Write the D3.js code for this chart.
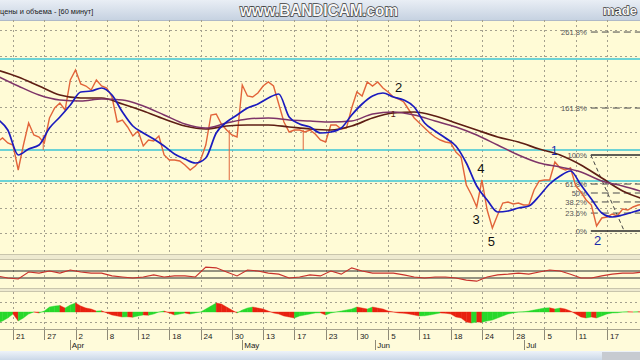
<!DOCTYPE html>
<html><head><meta charset="utf-8">
<script src="https://cdn.jsdelivr.net/npm/d3@7"></script>
<style>html,body{margin:0;padding:0;background:#fff;overflow:hidden}svg{display:block}</style>
</head><body>
<svg id="c" width="640" height="360"></svg>
<script>
// ---------- DATA ----------
const dayLabels = ["21","27","2","8","12","18","24","30","13","17","23","30","5","11","18","24","28","5","11","17"];
const tickBars = [3,9,15,21,27,33,39,45,51,57,63,69,75,81,87,93,99,105,111,117];
const monthLabels = ["Apr","May","Jun","Jul"];
const monthStart = [13.9, 47, 72.5, 101.1];

// hourly close, one value per bar (bar 0 .. 124)
const price = [1.158,1.162,1.157,1.155,1.130,1.155,1.177,1.165,1.163,1.157,
 1.182,1.192,1.197,1.190,1.220,1.230,1.216,1.214,1.210,1.220,
 1.214,1.212,1.203,1.178,1.180,1.173,1.164,1.169,1.154,1.160,
 1.159,1.164,1.145,1.140,1.140,1.139,1.135,1.130,1.134,1.140,
 1.155,1.185,1.186,1.176,1.170,1.165,1.163,1.215,1.204,1.203,
 1.207,1.214,1.218,1.214,1.196,1.178,1.168,1.170,1.170,1.168,
 1.170,1.166,1.160,1.158,1.175,1.175,1.171,1.172,1.192,1.208,
 1.204,1.218,1.214,1.218,1.212,1.208,1.203,1.201,1.198,1.190,
 1.182,1.177,1.172,1.167,1.163,1.160,1.158,1.157,1.148,1.143,
 1.115,1.105,1.093,1.120,1.090,1.072,1.085,1.097,1.098,1.096,
 1.097,1.095,1.095,1.110,1.119,1.120,1.120,1.138,1.132,1.130,
 1.132,1.114,1.108,1.100,1.095,1.074,1.082,1.083,1.086,1.084,
 1.091,1.090,1.093,1.095,1.096];
// long wicks
const wickBar = [8.8, 44.5, 58.7];
const wickHigh = [1.165, 1.170, 1.170];
const wickLow = [1.150, 1.120, 1.150];

// fast MA, every 2nd bar
const blueMA = [1.181,1.170,1.145,1.151,1.155,1.172,1.183,1.195,1.208,1.209,1.212,1.205,1.188,1.174,1.167,1.161,1.154,1.146,1.141,1.137,1.142,1.167,1.178,1.185,1.192,1.196,1.202,1.206,1.183,1.176,1.173,1.167,1.168,1.172,1.185,1.196,1.204,1.207,1.203,1.200,1.193,1.177,1.169,1.162,1.154,1.137,1.114,1.100,1.088,1.089,1.092,1.094,1.104,1.116,1.124,1.129,1.115,1.101,1.087,1.083,1.085,1.088,1.091];
// slow MAs, every 4th bar
const brownMA = [1.230,1.223,1.214,1.205,1.202,1.202,1.196,1.189,1.181,1.174,1.171,1.174,1.175,1.175,1.173,1.171,1.170,1.174,1.182,1.187,1.188,1.184,1.177,1.170,1.163,1.158,1.151,1.145,1.135,1.122,1.109,1.101];
const purpleMA = [1.224,1.214,1.205,1.200,1.199,1.201,1.200,1.194,1.185,1.176,1.172,1.177,1.181,1.182,1.180,1.179,1.178,1.179,1.186,1.188,1.185,1.179,1.173,1.165,1.155,1.145,1.137,1.133,1.128,1.119,1.114,1.108];

// oscillator, every 2nd bar
const osc = [45.7,40,37,57,54,60,54,63,57,54,54,46,43,40,43,49,43,46,46,43,71,69,57,46,63,60,54,51,40,43,49,46,60,51,69,60,54,54,54,49,43,40,43,43,40,34,31,43,49,51,54,51,57,63,60,51,40,40,46,51,54,54,57];
const oscLevels = [40, 60];

// histogram, one per bar
const hist = [-1.1,-0.9,-0.6,-0.2,-0.9,-0.6,-0.2,0,-0.1,0.1,
 0.5,0.6,0.65,0.4,0.7,0.9,0.6,0.4,0.3,0.1,
 0.12,-0.1,-0.3,-0.4,-0.5,-0.48,-0.52,-0.4,-0.3,-0.32,
 -0.2,0,0.1,-0.1,-0.3,-0.2,-0.1,-0.2,-0.1,0,
 0.3,0.6,0.9,0.8,0.5,0.2,-0.1,0.2,0.4,0.5,
 0.4,0.3,0.1,-0.1,-0.2,-0.4,-0.5,-0.6,-0.4,-0.3,
 -0.2,-0.1,-0.08,-0.3,-0.1,0,0.1,0.2,0.3,0.5,
 0.4,0.3,0.5,0.4,0.3,0.1,0,-0.1,-0.12,-0.2,
 -0.3,-0.4,-0.38,-0.3,-0.2,-0.1,-0.12,-0.2,-0.5,-0.6,
 -1.0,-1.1,-1.0,-1.02,-0.9,-0.8,-0.6,-0.4,-0.2,-0.1,
 0,0.02,0.1,0.2,0.3,0.4,0.42,0.3,0.4,0.3,
 0.1,-0.2,-0.5,-0.6,-0.5,-0.6,-0.4,-0.2,-0.1,-0.08,
 0,0.02,0,0.02,0];
const histGrid = [-1, 1];

const gridPrices = [1.270,1.244,1.219,1.193,1.168,1.143,1.117,1.092,1.067];
const cyanLevels = [1.241, 1.150, 1.119];

const fibLevels = [0, 23.6, 38.2, 50, 61.8, 100, 161.8, 261.8];
const fibLabels = ["0%","23.6%","38.2%","50%","61.8%","100%","161.8%","261.8%"];
const fibLow = 1.069, fibHigh = 1.145;
const fibStartBar = 113.9, fibEndBar = 120.3;

const waveText = ["2","1","3","4","5","1","2"];
const waveBar = [77.0, 76.0, 91.9, 92.8, 94.8, 106.9, 115.2];
const wavePrice = [1.208, 1.183, 1.076, 1.127, 1.054, 1.145, 1.055];
const waveColor = ["#111","#5a1a10","#111","#111","#111","#1a2aa8","#1a2aa8"];
const waveSize = [13, 9, 13, 13, 13, 12, 13];

// ---------- DRAW ----------
const svg = d3.select("#c");
const FONT = "'Liberation Sans', Arial, sans-serif";
const x = d3.scaleLinear().domain([3, 117]).range([13, 607]);
const y = d3.scaleLinear().domain([1.046, 1.280]).range([254, 20]);
const yOsc = d3.scaleLinear().domain([40, 60]).range([278, 271]);
const yHist = d3.scaleLinear().domain([-1, 1]).range([322, 302]);

const defs = svg.append("defs");
const g1 = defs.append("linearGradient").attr("id","tb").attr("x1",0).attr("y1",0).attr("x2",0).attr("y2",1);
g1.append("stop").attr("offset","0%").attr("stop-color","#E9EEF5");
g1.append("stop").attr("offset","100%").attr("stop-color","#C6D2E1");
const g2 = defs.append("linearGradient").attr("id","bb").attr("x1",0).attr("y1",0).attr("x2",0).attr("y2",1);
g2.append("stop").attr("offset","0%").attr("stop-color","#EEF3F9");
g2.append("stop").attr("offset","100%").attr("stop-color","#CBD8E8");
defs.append("clipPath").attr("id","mainClip").append("rect").attr("x",0).attr("y",20).attr("width",640).attr("height",234);
defs.append("clipPath").attr("id","p1Clip").append("rect").attr("x",0).attr("y",260).attr("width",640).attr("height",28);
defs.append("clipPath").attr("id","p2Clip").append("rect").attr("x",0).attr("y",292).attr("width",640).attr("height",37);

// backgrounds
svg.append("rect").attr("x",0).attr("y",0).attr("width",640).attr("height",20).attr("fill","url(#tb)");
svg.append("rect").attr("x",0).attr("y",20).attr("width",640).attr("height",331).attr("fill","#FFFBD6");
svg.append("line").attr("x1",0).attr("x2",640).attr("y1",20.5).attr("y2",20.5).attr("stroke","#AEB9C8");
[[254,6],[288,4]].forEach(([t,h])=>{
  svg.append("rect").attr("x",0).attr("y",t).attr("width",640).attr("height",h).attr("fill","#EEEAD0");
  svg.append("line").attr("x1",0).attr("x2",640).attr("y1",t+0.5).attr("y2",t+0.5).attr("stroke","#C9C5AC");
  svg.append("line").attr("x1",0).attr("x2",640).attr("y1",t+h-0.5).attr("y2",t+h-0.5).attr("stroke","#C9C5AC");
});
svg.append("rect").attr("x",0).attr("y",329).attr("width",640).attr("height",22).attr("fill","#FFFBDA");
svg.append("line").attr("x1",0).attr("x2",640).attr("y1",329.5).attr("y2",329.5).attr("stroke","#A8A48E");
svg.append("rect").attr("x",0).attr("y",351).attr("width",640).attr("height",9).attr("fill","url(#bb)");
svg.append("rect").attr("x",602).attr("y",352).attr("width",38).attr("height",8).attr("fill","#C7CBD1");

// title texts
svg.append("text").attr("x",0).attr("y",14).attr("font-family",FONT).attr("font-size",7.4).attr("fill","#1a1a1a").text("цены и объема - [60 минут]");
svg.append("text").attr("x",240).attr("y",16).attr("font-family",FONT).attr("font-weight","bold").attr("font-size",16)
  .attr("textLength",158).attr("lengthAdjust","spacingAndGlyphs")
  .attr("fill","#f7f7f7").attr("stroke","#3a3a3a").attr("stroke-width",1.4).attr("paint-order","stroke").text("www.BANDICAM.com");
svg.append("text").attr("x",603).attr("y",15).attr("font-family",FONT).attr("font-weight","bold").attr("font-size",13)
  .attr("fill","#f7f7f7").attr("stroke","#3a3a3a").attr("stroke-width",1.3).attr("paint-order","stroke").text("made");

// vertical grid
const gridStyle = s => s.attr("stroke","#A4A08E").attr("stroke-width",1).attr("stroke-dasharray","2,3");
[[20,254],[260,288],[292,329]].forEach(([a,b])=>{
  svg.append("g").selectAll("line").data(tickBars).join("line")
    .attr("x1",d=>Math.round(x(d))+0.5).attr("x2",d=>Math.round(x(d))+0.5).attr("y1",a).attr("y2",b).call(gridStyle);
});
// horizontal grid main
svg.append("g").selectAll("line").data(gridPrices).join("line")
  .attr("x1",0).attr("x2",640).attr("y1",d=>Math.round(y(d))+0.5).attr("y2",d=>Math.round(y(d))+0.5).call(gridStyle);
svg.append("g").selectAll("line").data(histGrid).join("line")
  .attr("x1",0).attr("x2",640).attr("y1",d=>Math.round(yHist(d))+0.5).attr("y2",d=>Math.round(yHist(d))+0.5).call(gridStyle);

// main panel
const main = svg.append("g").attr("clip-path","url(#mainClip)");
main.selectAll("line.cy").data(cyanLevels).join("line").attr("class","cy")
  .attr("x1",0).attr("x2",640).attr("y1",d=>y(d)).attr("y2",d=>y(d))
  .attr("stroke","#3CC6D4").attr("stroke-width",1.7);

// fibonacci
const fibPrice = l => fibLow + (fibHigh - fibLow) * l / 100;
const fx = x(fibStartBar);
fibLevels.forEach((l,i)=>{
  const solid = (l === 0 || l === 100);
  main.append("line").attr("x1",fx).attr("x2",640).attr("y1",y(fibPrice(l))).attr("y2",y(fibPrice(l)))
    .attr("stroke", solid ? "#2a2a2a" : "#4a4a4a").attr("stroke-width", solid ? 1.4 : 1)
    .attr("stroke-dasharray", solid ? null : "7,4");
  main.append("text").attr("x",fx-4).attr("y",y(fibPrice(l))+3).attr("text-anchor","end")
    .attr("font-family",FONT).attr("font-size",7.6).attr("fill","#555").text(fibLabels[i]);
});
main.append("line").attr("x1",fx).attr("y1",y(fibHigh)).attr("x2",x(fibEndBar)).attr("y2",y(fibLow))
  .attr("stroke","#444").attr("stroke-width",1).attr("stroke-dasharray","4,3");

// price
main.append("g").selectAll("line").data(wickBar).join("line")
  .attr("x1",d=>x(d)).attr("x2",d=>x(d)).attr("y1",(d,i)=>y(wickHigh[i])).attr("y2",(d,i)=>y(wickLow[i]))
  .attr("stroke","#E0673D").attr("stroke-width",1);
main.append("path").datum(price)
  .attr("d", d3.line().x((d,i)=>x(i)).y(d=>y(d)))
  .attr("fill","none").attr("stroke","#E2643A").attr("stroke-width",1.4).attr("stroke-linejoin","miter");

// moving averages
main.append("path").datum(brownMA)
  .attr("d", d3.line().x((d,i)=>x(i*4)).y(d=>y(d)).curve(d3.curveMonotoneX))
  .attr("fill","none").attr("stroke","#5E1E14").attr("stroke-width",1.7);
main.append("path").datum(purpleMA)
  .attr("d", d3.line().x((d,i)=>x(i*4)).y(d=>y(d)).curve(d3.curveMonotoneX))
  .attr("fill","none").attr("stroke","#7E3468").attr("stroke-width",1.5);
main.append("path").datum(blueMA)
  .attr("d", d3.line().x((d,i)=>x(i*2)).y(d=>y(d)).curve(d3.curveMonotoneX))
  .attr("fill","none").attr("stroke","#1B1BBE").attr("stroke-width",1.7);

// wave labels
main.append("g").selectAll("text").data(waveText).join("text")
  .attr("x",(d,i)=>x(waveBar[i])).attr("y",(d,i)=>y(wavePrice[i])).attr("text-anchor","middle")
  .attr("font-family",FONT).attr("font-size",(d,i)=>waveSize[i]).attr("fill",(d,i)=>waveColor[i]).text(d=>d);

// oscillator panel
const p1 = svg.append("g").attr("clip-path","url(#p1Clip)");
p1.selectAll("line").data(oscLevels).join("line")
  .attr("x1",0).attr("x2",640).attr("y1",d=>yOsc(d)).attr("y2",d=>yOsc(d)).attr("stroke","#2b2b2b").attr("stroke-width",1);
p1.append("path").datum(osc)
  .attr("d", d3.line().x((d,i)=>x(i*2)).y(d=>yOsc(d)))
  .attr("fill","none").attr("stroke","#C8302A").attr("stroke-width",1.1);

// histogram panel
const p2 = svg.append("g").attr("clip-path","url(#p2Clip)");
const seg = d3.area().x(d=>x(d.i)).y0(yHist(0)).y1(d=>yHist(d.v));
const segs = d3.range(1, hist.length).map(i=>({a:{i:i-1,v:hist[i-1]}, b:{i:i,v:hist[i]}, up: hist[i] >= hist[i-1]}));
p2.selectAll("path").data(segs).join("path")
  .attr("d", s=>seg([s.a, s.b]))
  .attr("fill", s=> s.up ? "#27D82A" : "#E8210F")
  .attr("stroke", s=> s.up ? "#27D82A" : "#E8210F").attr("stroke-width",0.4);

// bottom axis labels
const ax = svg.append("g");
ax.selectAll("line.t").data(tickBars).join("line").attr("class","t")
  .attr("x1",d=>Math.round(x(d))+0.5).attr("x2",d=>Math.round(x(d))+0.5).attr("y1",330).attr("y2",340)
  .attr("stroke","#8E8A78");
ax.selectAll("text.d").data(dayLabels).join("text").attr("class","d")
  .attr("x",(d,i)=>x(tickBars[i])+3).attr("y",339).attr("font-family",FONT).attr("font-size",8).attr("fill","#222").text(d=>d);
ax.selectAll("line.m").data(monthStart).join("line").attr("class","m")
  .attr("x1",d=>Math.round(x(d))+0.5).attr("x2",d=>Math.round(x(d))+0.5).attr("y1",340).attr("y2",350)
  .attr("stroke","#8E8A78");
ax.selectAll("text.m").data(monthLabels).join("text").attr("class","m")
  .attr("x",(d,i)=>x(monthStart[i])+2).attr("y",348).attr("font-family",FONT).attr("font-size",8).attr("fill","#222").text(d=>d);
</script>
</body></html>
